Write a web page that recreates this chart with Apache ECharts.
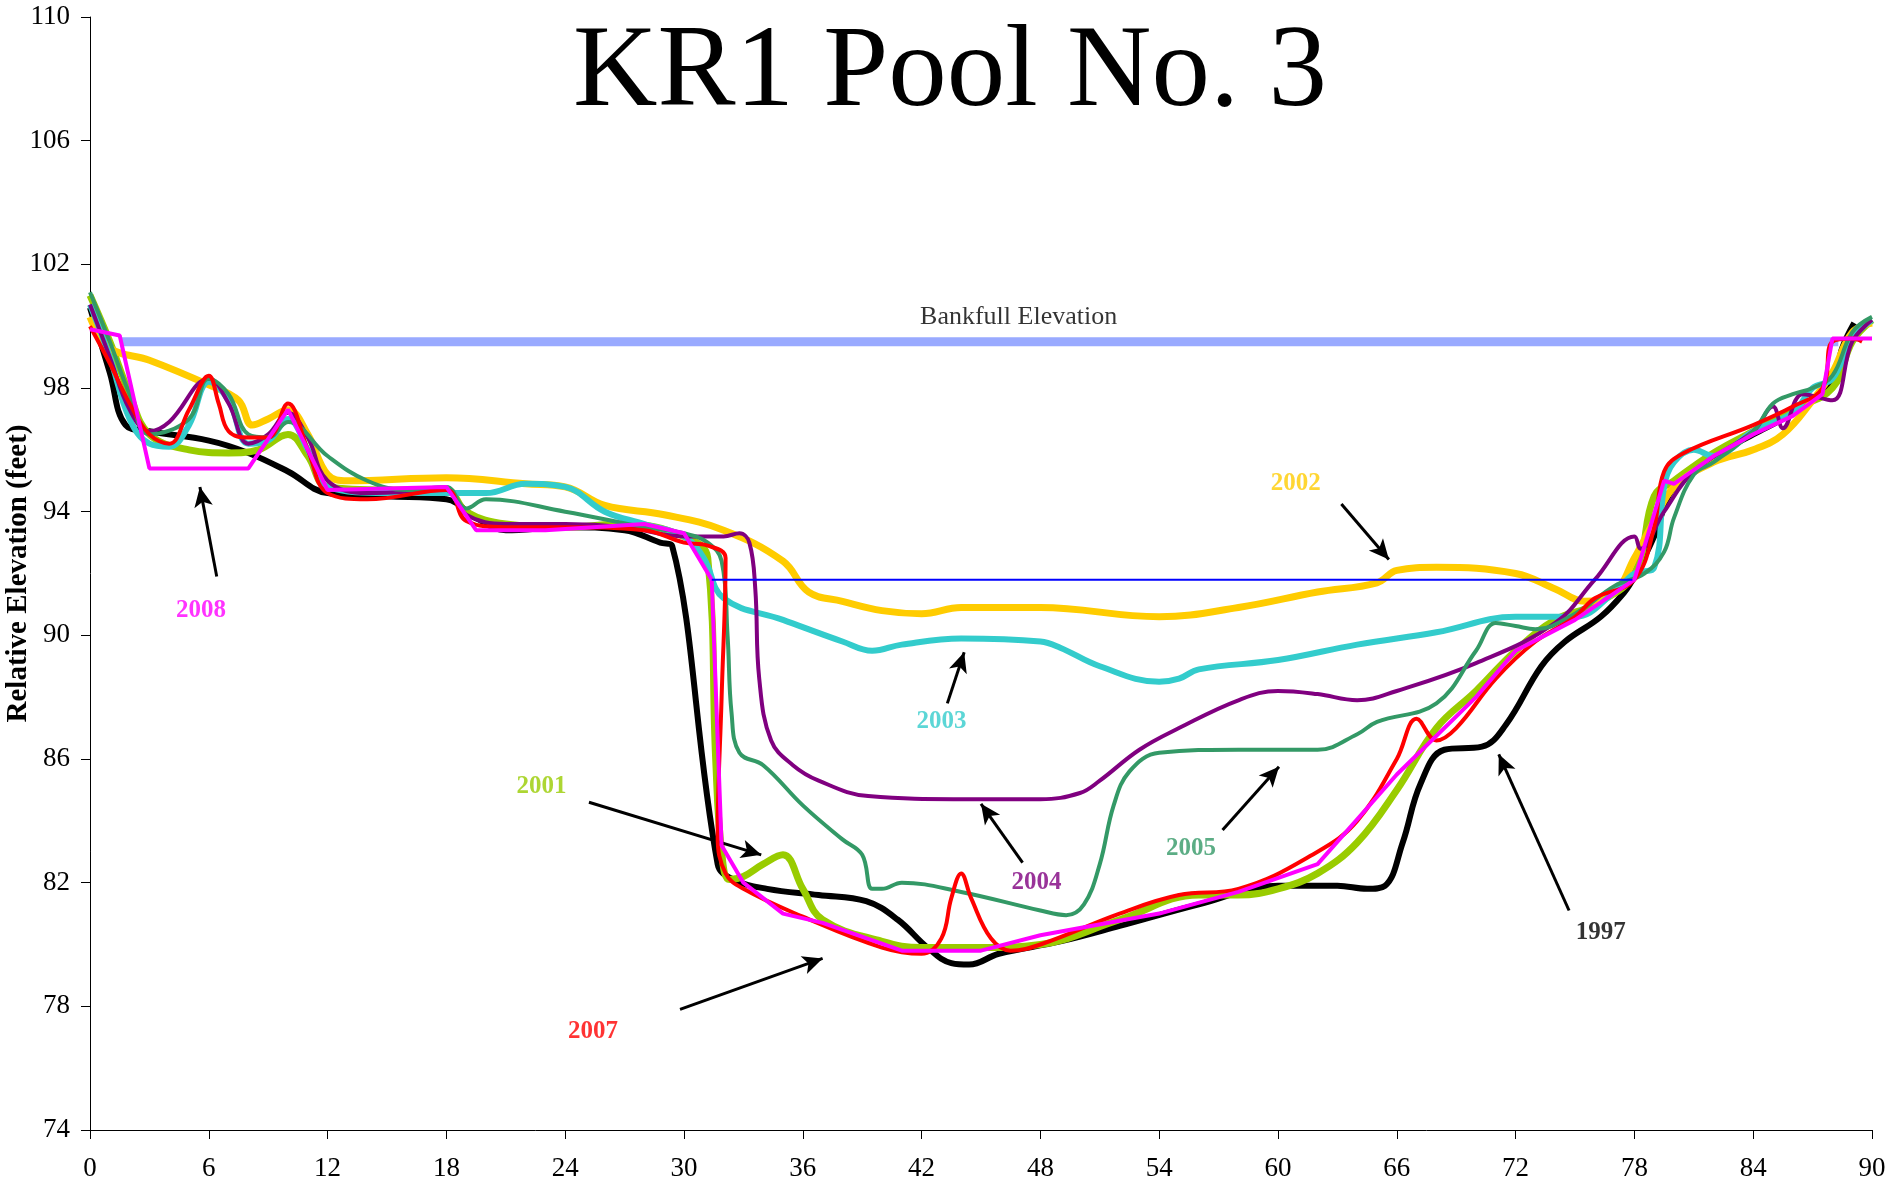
<!DOCTYPE html>
<html>
<head>
<meta charset="utf-8">
<title>KR1 Pool No. 3</title>
<script src="https://cdn.jsdelivr.net/npm/echarts@6/dist/echarts.min.js"></script>
<style>
  html, body { margin: 0; padding: 0; background: #fff; }
  #main { width: 1889px; height: 1184px; }
</style>
</head>
<body>
<div id="main"></div>
<script>
// station (ft) vs relative elevation (ft)
var elev1997 = [[0,100.6],[1,98.5],[1.8,96.8],[3,96.6],[6,96.3],[8,95.9],[10,95.3],[12,94.6],[15,94.5],[18,94.4],
  [19.5,93.8],[21,93.4],[24,93.5],[27,93.4],[28.8,93.0],[29.4,92.9],[31.7,82.6],[32.5,82.1],[34.2,81.8],[36.8,81.6],
  [39.2,81.4],[40.8,80.8],[42.3,79.9],[43.5,79.4],[44.4,79.35],[45.9,79.7],[49,80.1],[52,80.6],[56,81.3],[60,81.9],
  [63,81.9],[64.5,81.8],[65.4,81.9],[66.3,83.3],[67.2,85.2],[68.4,86.3],[70.3,86.4],[71.5,87.1],[73.3,89.0],[74.5,89.8],
  [76.3,90.6],[77.5,91.4],[78,91.9],[79,93.2],[80,94.8],[82,95.8],[84,96.5],[86,97.2],[88,98.2],[88.5,99.3],[89.1,100.1]];
var elev2001 = [[0,101.0],[1,99.5],[2,97.8],[3,96.5],[5,96.0],[7,95.9],[8.5,96.0],[10,96.5],[11,95.8],[12,94.8],
  [15,94.7],[18,94.7],[19,94.0],[21,93.6],[24,93.5],[27,93.6],[30,93.2],[31.2,92.5],[31.6,86],[31.9,83],[32.3,82.1],
  [33,82.2],[34,82.6],[35,82.9],[36,81.8],[37,80.8],[40,80.1],[42,79.9],[45,79.9],[48,80.0],[52,80.8],[56,81.6],
  [58,81.6],[60,81.8],[62,82.3],[64,83.3],[66,85.0],[68,87.0],[70,88.2],[72,89.5],[74,90.5],[76,91.0],[78,92.0],
  [79,94.5],[80,95.0],[82,95.9],[84,96.6],[86,97.3],[88,98.0],[89,99.5],[90,100.2]];
var elev2002 = [[0,100.3],[1,99.3],[3,98.9],[6,98.1],[7.5,97.6],[8.2,96.8],[9,97.0],[10,97.3],[11,96.5],[12,95.2],
  [13,95.0],[18,95.1],[22,94.9],[24,94.8],[26,94.2],[29,93.9],[32,93.4],[35,92.4],[36.3,91.4],[38,91.1],[40,90.8],
  [42,90.7],[44,90.9],[48,90.9],[54,90.6],[58,90.9],[62,91.4],[65,91.7],[66,92.1],[68,92.2],[72,92.0],[74,91.5],
  [75.5,91.1],[77,91.4],[78,92.5],[79,93.7],[80,94.8],[82,95.6],[84,96.0],[85.5,96.5],[87,97.6],[88,98.5],[89,99.8],[90,100.1]];
var elev2003 = [[0,100.7],[1,99],[2,97],[3,96.2],[4,96.1],[5,96.8],[6,98.2],[7,97.6],[8,96.2],[9,96.3],[10,97.0],
  [11,96.0],[12,94.8],[15,94.6],[18,94.6],[20,94.6],[22,94.9],[24,94.8],[26,94.0],[28,93.6],[30,93.2],[31,92.5],
  [32,91.2],[35,90.5],[38,89.8],[39.5,89.5],[41,89.7],[44,89.9],[48,89.8],[49,89.6],[51,89.0],[54,88.5],[55,88.6],
  [56,88.9],[60,89.2],[64,89.7],[68,90.1],[72,90.6],[75,90.6],[77,91.4],[78,92.0],[79,92.2],[79.5,94.8],[80,95.6],
  [81,96.0],[82,95.8],[84,96.6],[86,97.2],[87,98.0],[88,98.3],[89,99.6],[90,100.2]];
var elev2004 = [[0,100.7],[1,99],[2,97.3],[3,96.6],[4,96.9],[6,98.3],[7,97.5],[8,96.2],[9,96.5],[10,97.2],[11,96.4],
  [12,95.0],[14,94.6],[18,94.7],[19,93.9],[21,93.6],[24,93.6],[27,93.5],[30,93.2],[32,93.2],[32.8,93.3],[33.3,93.0],
  [33.6,91.5],[33.8,88.6],[34.4,86.6],[35.5,85.8],[36.8,85.3],[39.3,84.8],[44,84.7],[48,84.7],[50,84.9],[51,85.3],
  [53,86.3],[55,87.0],[58,87.9],[60,88.2],[62,88.1],[64,87.9],[66,88.2],[70,89.1],[74,90.4],[76,91.8],[78,93.2],
  [78.3,92.8],[79.5,94.0],[81,95.3],[84,96.6],[85,97.4],[85.5,96.7],[86.5,97.8],[88,97.6],[89,99.5],[90,100.2]];
var elev2005 = [[0,101.1],[1,99.5],[2,97.8],[3,96.5],[5,97.0],[6,98.3],[7,97.8],[8,96.5],[9,96.4],[10,96.9],[12,95.8],
  [14,95.0],[16,94.7],[18,94.8],[19,94.1],[20,94.4],[24,94.0],[28,93.5],[30,93.3],[31.2,93.0],[31.9,92.4],[32.2,90],
  [32.4,87.5],[32.8,86.2],[34,85.8],[36,84.5],[38,83.4],[39,82.9],[39.5,81.8],[40,81.8],[41,82.0],[44,81.7],[48,81.1],
  [49.3,80.95],[50.2,81.3],[51,82.6],[51.7,84.5],[52.5,85.6],[54,86.2],[58,86.3],[62,86.3],[64,86.8],[65,87.2],
  [68,87.8],[70,89.5],[71,90.4],[72,90.3],[73,90.2],[75,90.7],[77,91.6],[78.5,92.0],[79.5,92.7],[80,93.8],[81,95.2],
  [82,95.6],[84,96.6],[85,97.5],[86,97.8],[87,98.0],[88,98.4],[89,99.8],[90,100.3]];
var elev2007 = [[0,100.0],[1,98.8],[2,97.5],[3,96.5],[4,96.2],[5,97.3],[6,98.4],[6.5,97.5],[7,96.6],[8,96.4],[9,96.4],
  [10,97.5],[11,96.0],[12,94.6],[14,94.4],[18,94.7],[19,93.7],[21,93.5],[24,93.5],[28,93.4],[30,93.0],[31.2,92.9],
  [32.1,92.5],[31.9,88],[31.7,83.5],[32.1,82.3],[33,81.8],[36,80.9],[40,79.9],[42,79.7],[43,80.2],[43.5,81.5],[44,82.3],
  [44.5,81.5],[45.5,80.2],[46.5,79.8],[48,80.0],[52,81.0],[55,81.6],[58,81.8],[62,83.0],[64,84.0],[66,86.0],[67,87.3],
  [68,86.6],[69,87.0],[71,88.6],[73,89.8],[75,90.6],[76,91.2],[78,91.8],[79,93.5],[79.5,95.3],[80.5,95.9],[84,96.8],
  [86,97.4],[87.5,98.0],[88,99.5],[89,99.6],[89.5,99.5]];
var elev2008 = [[0,99.9],[1.5,99.7],[3,95.4],[8,95.4],[10,97.3],[12,94.7],[18,94.8],[19.5,93.4],[23,93.4],[28,93.6],
  [30,93.3],[31.4,91.8],[31.9,83.2],[33,82.0],[35,81.0],[37,80.7],[41,79.8],[45,79.8],[48,80.3],[54,81.0],[58,81.7],
  [62,82.6],[66,85.5],[70,88.0],[72,89.5],[75,90.5],[78,91.8],[79.5,95.0],[80,94.9],[82,95.8],[84,96.5],[86,97.1],
  [87.5,97.8],[88,99.6],[90,99.6]];

var bankfull = [[1.6,99.5],[88.3,99.5]];
var waterLine = [[31.4,91.8],[77.9,91.8]];

// year callouts: [text, colour, x, y]
var notes = [
  ['2008', '#FF00FF', 5.6, 90.8],
  ['2001', '#99CC00', 22.8, 85.1],
  ['2002', '#FFCC00', 60.9, 94.9],
  ['2003', '#33CCCC', 43.0, 87.2],
  ['2004', '#800080', 47.8, 82.0],
  ['2005', '#339966', 55.6, 83.1],
  ['2007', '#FF0000', 25.4, 77.2],
  ['1997', '#000000', 76.3, 80.4]
];
// arrows: [x1, y1, x2, y2]
var arrows = [
  [6.4, 91.9, 5.55, 94.8],
  [25.2, 84.6, 33.9, 82.9],
  [63.2, 94.25, 65.6, 92.45],
  [43.3, 87.8, 44.15, 89.45],
  [47.1, 82.65, 45.0, 84.55],
  [57.2, 83.7, 60.05, 85.75],
  [29.8, 77.9, 37.0, 79.55],
  [74.7, 81.1, 71.15, 86.15]
];

var serif = '"Liberation Serif", "Times New Roman", serif';

var yearSeries = [
  { name: '1997', data: elev1997, color: '#000000', width: 6, smooth: 0.4 },
  { name: '2001', data: elev2001, color: '#99CC00', width: 7, smooth: 0.4 },
  { name: '2002', data: elev2002, color: '#FFCC00', width: 7, smooth: 0.4 },
  { name: '2003', data: elev2003, color: '#33CCCC', width: 6, smooth: 0.4 },
  { name: '2004', data: elev2004, color: '#800080', width: 4, smooth: 0.4 },
  { name: '2005', data: elev2005, color: '#339966', width: 4, smooth: 0.4 },
  { name: '2007', data: elev2007, color: '#FF0000', width: 4, smooth: 0.4 },
  { name: '2008', data: elev2008, color: '#FF00FF', width: 4, smooth: false }
];

var chart = echarts.init(document.getElementById('main'));

var series = [];
series.push({
  name: 'Bankfull',
  type: 'line',
  data: bankfull,
  symbol: 'none',
  silent: true,
  lineStyle: { color: '#99AAFF', width: 9 },
  z: 1
});
yearSeries.forEach(function (s, i) {
  series.push({
    name: s.name,
    type: 'line',
    data: s.data,
    symbol: 'none',
    smooth: s.smooth,
    lineStyle: { color: s.color, width: s.width },
    z: 2 + i
  });
});
series.push({
  name: 'Water',
  type: 'line',
  data: waterLine,
  symbol: 'none',
  lineStyle: { color: '#0000FF', width: 2 },
  z: 20
});
// callout labels + arrows
series.push({
  type: 'scatter',
  symbolSize: 0,
  z: 30,
  data: notes.map(function (n) {
    return {
      value: [n[2], n[3]],
      label: {
        show: true, position: 'inside', formatter: n[0],
        color: n[1], fontFamily: serif, fontWeight: 'bold', fontSize: 25
      }
    };
  }).concat([{
    value: [46.9, 100.3],
    label: {
      show: true, position: 'inside', formatter: 'Bankfull Elevation',
      color: '#000', fontFamily: serif, fontSize: 26
    }
  }]),
  markLine: {
    silent: true,
    symbol: ['none', 'arrow'],
    symbolSize: [14, 20],
    label: { show: false },
    lineStyle: { color: '#000', width: 3, type: 'solid' },
    data: arrows.map(function (a) {
      return [{ coord: [a[0], a[1]] }, { coord: [a[2], a[3]] }];
    })
  }
});

chart.setOption({
  animation: false,
  backgroundColor: '#fff',
  title: {
    text: 'KR1 Pool No. 3',
    left: 945,
    textAlign: 'center',
    top: 11,
    textStyle: { fontFamily: serif, fontWeight: 'normal', fontSize: 117, color: '#000' }
  },
  grid: { left: 90, right: 17, top: 17, bottom: 54, containLabel: false, outerBoundsMode: 'none' },
  xAxis: {
    type: 'value',
    min: 0, max: 90, interval: 6,
    axisLine: { lineStyle: { color: '#000', width: 1 } },
    axisTick: { show: true, inside: false, length: 9, lineStyle: { color: '#000' } },
    axisLabel: { fontFamily: serif, fontSize: 27, color: '#000', margin: 25 },
    splitLine: { show: false }
  },
  yAxis: {
    type: 'value',
    min: 74, max: 110, interval: 4,
    name: 'Relative Elevation (feet)',
    nameLocation: 'middle',
    nameGap: 57,
    nameMoveOverlap: false,
    nameTextStyle: { fontFamily: serif, fontWeight: 'bold', fontSize: 29, color: '#000' },
    axisLine: { show: true, lineStyle: { color: '#000', width: 1 } },
    axisTick: { show: true, inside: false, length: 9, lineStyle: { color: '#000' } },
    axisLabel: { fontFamily: serif, fontSize: 27, color: '#000', margin: 20 },
    splitLine: { show: false }
  },
  series: series
});
</script>
</body>
</html>
